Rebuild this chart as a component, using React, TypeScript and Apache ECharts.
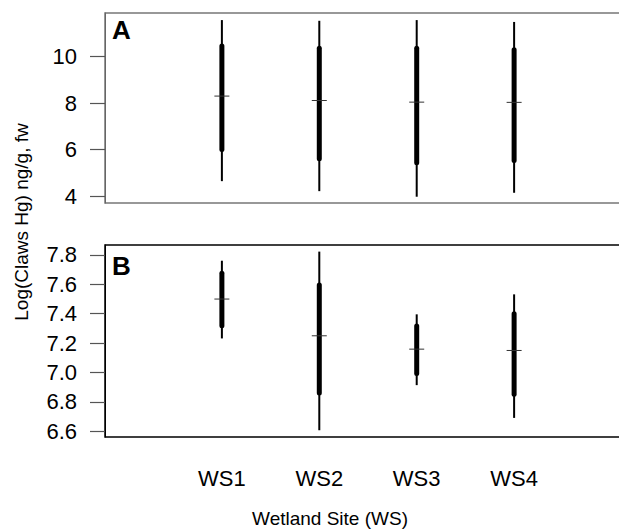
import React, { useEffect, useRef } from "react";
import * as echarts from "echarts";

const categories = ["WS1", "WS2", "WS3", "WS4"];

// Panel A
const aMin = [4.64, 4.21, 3.97, 4.14];
const aQ1 = [6.0, 5.6, 5.43, 5.53];
const aMed = [8.3, 8.11, 8.04, 8.03];
const aQ3 = [10.46, 10.36, 10.36, 10.29];
const aMax = [11.57, 11.54, 11.57, 11.49];
const aTicks = [4, 6, 8, 10];

// Panel B
const bMin = [7.232, 6.607, 6.914, 6.691];
const bQ1 = [7.318, 6.861, 6.993, 6.852];
const bMed = [7.5, 7.25, 7.159, 7.15];
const bQ3 = [7.675, 7.595, 7.316, 7.4];
const bMax = [7.761, 7.823, 7.396, 7.532];
const bTicks = [6.6, 6.8, 7.0, 7.2, 7.4, 7.6, 7.8];

const FONT = "Liberation Sans, Arial, Helvetica, sans-serif";

function renderItem(params: any, api: any) {
  const x = api.value(0);
  const lo = api.coord([x, api.value(1)]);
  const q1 = api.coord([x, api.value(2)]);
  const md = api.coord([x, api.value(3)]);
  const q3 = api.coord([x, api.value(4)]);
  const hi = api.coord([x, api.value(5)]);
  return {
    type: "group",
    children: [
      { type: "line", shape: { x1: lo[0], y1: lo[1], x2: hi[0], y2: hi[1] }, style: { stroke: "#000", lineWidth: 2 } },
      { type: "line", shape: { x1: q1[0], y1: q1[1], x2: q3[0], y2: q3[1] }, style: { stroke: "#000", lineWidth: 5, lineCap: "round" } },
      { type: "line", shape: { x1: md[0] - 7.5, y1: md[1], x2: md[0] + 7.5, y2: md[1] }, style: { stroke: "#333", lineWidth: 1 } },
    ],
  };
}

export default function App() {
  const ref = useRef<HTMLDivElement>(null);
  useEffect(() => {
    const chart = echarts.init(ref.current!, undefined, { renderer: "svg" });
    const dataA = categories.map((c, i) => [i + 1, aMin[i], aQ1[i], aMed[i], aQ3[i], aMax[i]]);
    const dataB = categories.map((c, i) => [i + 1, bMin[i], bQ1[i], bMed[i], bQ3[i], bMax[i]]);
    const xBase = {
      type: "value",
      min: -0.2,
      max: 5.2,
      splitLine: { show: false },
      axisLine: { show: false },
      axisTick: { show: false },
    };
    const tickStyle = { show: true, inside: false, length: 15, lineStyle: { color: "#555", width: 1.2 } };
    const yBase = {
      type: "value",
      position: "left",
      splitLine: { show: false },
      axisLine: { show: true, onZero: false, lineStyle: { color: "#666", width: 1 } },
    };
    chart.setOption({
      animation: false,
      textStyle: { fontFamily: FONT },
      grid: [
        { left: 105, top: 13, width: 526, height: 190, outerBoundsMode: "none", containLabel: false, show: true, borderColor: "#777", borderWidth: 1.5, backgroundColor: "transparent" },
        { left: 105, top: 245, width: 526, height: 192, outerBoundsMode: "none", containLabel: false, show: true, borderColor: "#000", borderWidth: 1.5, backgroundColor: "transparent" },
      ],
      xAxis: [
        { ...xBase, gridIndex: 0, axisLabel: { show: false } },
        {
          ...xBase,
          gridIndex: 1,
          axisLabel: {
            show: true,
            customValues: [1, 2, 3, 4],
            formatter: (v: number) => categories[Math.round(v) - 1] ?? "",
            color: "#000",
            fontSize: 22,
            fontFamily: FONT,
            margin: 30,
          },
        },
      ],
      yAxis: [
        {
          ...yBase,
          gridIndex: 0,
          min: 3.7,
          max: 11.875,
          axisTick: { ...tickStyle, customValues: aTicks },
          axisLabel: { customValues: aTicks, color: "#000", fontSize: 22, fontFamily: FONT, margin: 28 },
        },
        {
          ...yBase,
          gridIndex: 1,
          min: 6.561,
          max: 7.868,
          axisLine: { show: true, onZero: false, lineStyle: { color: "#000", width: 1 } },
          axisTick: { ...tickStyle, customValues: bTicks },
          axisLabel: {
            customValues: bTicks,
            formatter: (v: number) => v.toFixed(1),
            color: "#000",
            fontSize: 22,
            fontFamily: FONT,
            margin: 28,
          },
        },
      ],
      series: [
        { type: "custom", xAxisIndex: 0, yAxisIndex: 0, renderItem, data: dataA, encode: { x: 0, y: [1, 2, 3, 4, 5] }, clip: false },
        { type: "custom", xAxisIndex: 1, yAxisIndex: 1, renderItem, data: dataB, encode: { x: 0, y: [1, 2, 3, 4, 5] }, clip: false },
      ],
      graphic: [
        { type: "text", left: 112, top: 17, style: { text: "A", font: `bold 26px ${FONT}`, fill: "#000" } },
        { type: "text", left: 112, top: 253, style: { text: "B", font: `bold 26px ${FONT}`, fill: "#000" } },
        {
          type: "text",
          x: 21,
          y: 222,
          rotation: Math.PI / 2,
          style: { text: "Log(Claws Hg) ng/g, fw", font: `19px ${FONT}`, fill: "#000", align: "center", verticalAlign: "middle" },
        },
        {
          type: "text",
          x: 330,
          y: 518,
          style: { text: "Wetland Site (WS)", font: `19px ${FONT}`, fill: "#000", align: "center", verticalAlign: "middle" },
        },
      ],
    });
    return () => chart.dispose();
  }, []);
  return <div ref={ref} style={{ position: "absolute", left: 0, top: 0, width: 619, height: 531 }} />;
}
